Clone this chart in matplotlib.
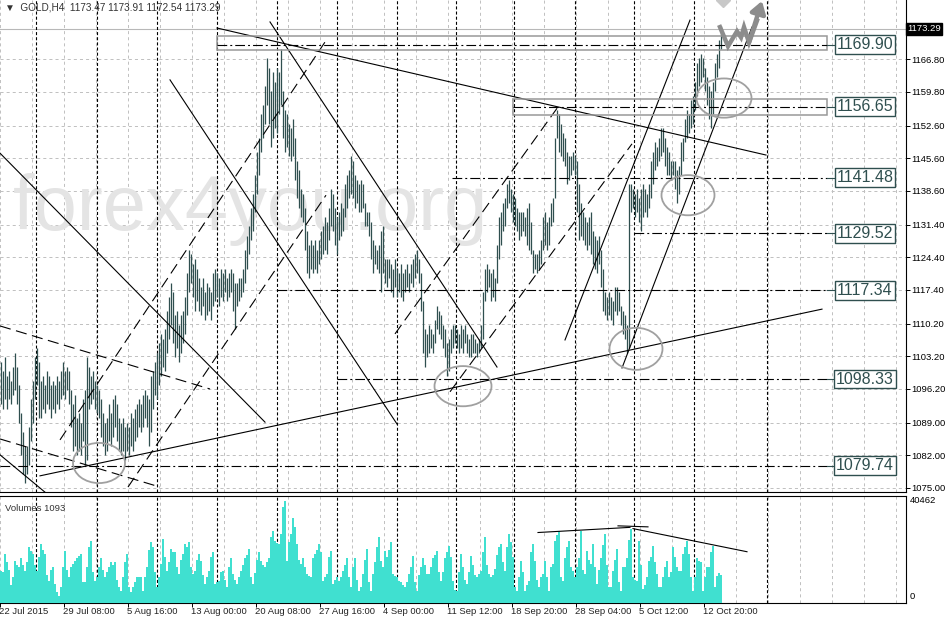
import matplotlib
matplotlib.use("Agg")
import matplotlib.pyplot as plt
import matplotlib.transforms as mtrans
from matplotlib.patches import Ellipse, Rectangle

plt.rcParams['lines.scale_dashes'] = False
plt.rcParams['font.family'] = ['Liberation Sans', 'DejaVu Sans']

# GOLD H4 bars, lows / highs (one value per bar)
lo = [1093,1092,1094,1092,1094,1093,1095,1096,1093,1089,1082,1078,1076,1078,1080,1085,1089,1094,1097,1090,
      1090,1092,1091,1093,1092,1090,1092,1091,1093,1092,1094,1095,1094,1096,1093,1088,1083,1084,1082,1083,
      1082,1085,1080,1081,1092,1093,1094,1092,1091,1090,1086,1084,1082,1083,1085,1084,1086,1088,1085,1083,
      1082,1083,1081,1083,1082,1084,1083,1085,1086,1088,1087,1088,1090,1088,1084,1087,1092,1095,1094,1097,
      1099,1101,1100,1104,1107,1110,1106,1103,1105,1102,1104,1106,1108,1112,1117,1119,1116,1113,1115,1113,
      1112,1114,1111,1112,1113,1111,1114,1115,1116,1114,1116,1115,1117,1115,1116,1117,1113,1109,1114,1115,
      1116,1117,1119,1122,1125,1128,1130,1134,1138,1142,1147,1150,1153,1157,1153,1148,1150,1152,1151,1155,
      1157,1150,1147,1148,1146,1145,1146,1141,1137,1135,1133,1132,1126,1121,1120,1122,1121,1122,1121,1123,
      1124,1125,1126,1125,1128,1131,1130,1127,1125,1128,1129,1130,1133,1135,1137,1138,1137,1135,1136,1134,
      1134,1135,1131,1131,1129,1124,1121,1123,1122,1121,1117,1121,1119,1118,1120,1117,1116,1118,1116,1117,
      1116,1115,1117,1118,1117,1119,1118,1120,1121,1119,1113,1104,1101,1103,1104,1105,1104,1106,1109,1108,
      1107,1105,1103,1099,1100,1104,1105,1106,1105,1104,1105,1104,1106,1104,1103,1103,1104,1104,1103,1104,
      1105,1107,1115,1117,1118,1115,1116,1115,1119,1124,1127,1130,1131,1135,1136,1134,1132,1131,1130,1128,
      1129,1130,1129,1127,1126,1125,1121,1122,1121,1122,1123,1126,1127,1126,1127,1131,1132,1137,1150,1147,
      1146,1145,1144,1140,1141,1142,1143,1142,1134,1128,1129,1128,1127,1126,1127,1125,1123,1122,1121,1123,
      1118,1113,1112,1111,1112,1111,1110,1113,1112,1113,1110,1108,1107,1104,1105,1134,1135,1133,1134,1132,
      1130,1133,1134,1133,1135,1137,1140,1143,1144,1145,1146,1147,1144,1142,1142,1141,1142,1139,1136,1138,
      1142,1145,1149,1150,1151,1152,1153,1156,1159,1161,1162,1163,1160,1157,1154,1152,1155,1160,1163,1165,1169]
hi = [1102,1100,1103,1099,1100,1098,1101,1104,1101,1097,1091,1087,1084,1084,1088,1094,1098,1103,1105,1102,
      1098,1099,1097,1100,1099,1097,1098,1097,1099,1098,1100,1102,1100,1101,1100,1096,1093,1095,1090,1091,
      1089,1094,1096,1103,1101,1099,1100,1098,1097,1096,1094,1091,1089,1090,1093,1091,1094,1095,1093,1090,
      1089,1090,1088,1089,1088,1091,1090,1092,1093,1094,1093,1095,1096,1095,1094,1099,1100,1102,1104,1106,
      1108,1107,1109,1113,1116,1119,1117,1112,1113,1110,1112,1113,1116,1121,1126,1125,1123,1124,1122,1120,
      1118,1120,1117,1119,1118,1117,1121,1122,1121,1120,1122,1121,1122,1120,1121,1122,1121,1119,1119,1120,
      1120,1122,1126,1129,1131,1135,1138,1142,1147,1150,1155,1157,1161,1167,1165,1160,1164,1162,1165,1164,
      1169,1160,1156,1155,1153,1152,1154,1150,1145,1143,1139,1138,1135,1130,1127,1128,1127,1128,1126,1128,
      1130,1131,1133,1132,1135,1139,1138,1135,1133,1134,1136,1135,1140,1142,1143,1146,1145,1142,1141,1140,
      1141,1140,1136,1134,1134,1132,1128,1127,1126,1127,1130,1131,1124,1124,1124,1123,1122,1124,1122,1121,
      1123,1121,1122,1123,1121,1123,1124,1125,1126,1124,1121,1115,1109,1108,1110,1109,1108,1111,1114,1113,
      1112,1110,1109,1106,1107,1109,1110,1110,1109,1108,1110,1109,1110,1108,1107,1108,1108,1107,1106,1107,
      1110,1117,1122,1123,1122,1121,1122,1120,1127,1133,1134,1136,1137,1140,1141,1139,1138,1137,1135,1134,
      1134,1134,1133,1135,1136,1132,1126,1125,1125,1126,1128,1133,1134,1132,1133,1136,1137,1150,1156,1155,
      1153,1151,1150,1147,1146,1146,1147,1146,1145,1140,1136,1134,1133,1132,1133,1134,1130,1129,1128,1129,
      1126,1122,1117,1116,1117,1116,1115,1118,1118,1117,1114,1113,1112,1110,1140,1140,1139,1138,1139,1137,
      1139,1140,1139,1138,1140,1145,1147,1149,1148,1150,1152,1152,1150,1148,1147,1145,1145,1145,1143,1144,
      1149,1150,1154,1156,1155,1158,1159,1162,1166,1167,1168,1167,1165,1163,1161,1160,1162,1166,1168,1171,1174]
# tick volume, thousands
vol = [12.6,12,19.2,16,13,7,10,16.6,15,14,17.9,15,12.6,16,21.9,20.5,19.2,15,12.6,18,
       23.2,21,19.2,11,8.6,13,14,7.3,4,2.7,6,14,20.6,13,10,14,15.3,16.5,17.9,18.5,
       19.2,8,8,14,22,24.6,12,8.6,10,14,17.9,13,10,12,14,16,15,16,9,6,
       4.6,10,16,19.2,6,4,6,8,10,10,10,4.6,10,14,21,23.9,21.9,12,6,10,
       15.3,25.2,18,12.6,16,21.2,20,19.9,14,11.3,17,19.2,23.2,22,23.9,14,11.3,12.6,17,19.2,
       16.6,11,7.3,10,12.6,18,19.9,7.3,8,8.6,12,12.6,9,6,14,17.9,11.3,9,7.3,10,
       12.6,15,17.9,19,21.2,10,7.3,11.9,17,19.9,16.6,15,14,16,17.9,26,28.5,24.6,23.5,23.2,
       27.2,38,40.5,16.6,24,27.2,33.8,30,23.2,17,15.3,17.9,14,11.3,10.5,10,17.9,19.2,21,23.2,
       20,8.6,10,11.3,18,20.6,7.3,9,10,8.6,10,12.6,15,17.9,10,6,14,17.9,9,4.6,
       6,11.3,17,21.2,8,4.6,11.3,16,22,25.9,16.6,14,20.6,18,21,23.9,11.3,10.5,10,8.6,
       8,7,6,8,11.3,14,18.6,8,4.6,11,14,17.9,15,11.3,11.3,14,17.9,19,20.6,12,
       8.6,12,17.9,20,22.5,18,8.6,5,4.6,12,19.2,14,9,7.3,12,18.6,15,11,10,11.3,
       12.6,20,25.9,15,11.3,10,11,13.3,19,21.9,23.2,16,12.6,22,27.2,24,18,6,4.6,10,
       16.6,12,4.6,7,8.6,20,23.2,16.6,9,6,10,11.3,16.6,10,4.6,14,15.3,24.6,27,28.5,
       10,8.6,17.9,22,24.6,14,12.6,10,14,17.9,28.5,13,11.3,20.6,17,15.3,23.2,14,7.3,13,
       17.9,23,27.2,15,6,6,12.6,17,21.2,8,4.6,14,14,17.9,25,29.2,10,9,8.6,24.6,
       15,5.3,7,10,16.6,18,22.5,16,11.3,6,6,10,14,16.6,10,12,22,18,14,12.6,
       12.6,19.2,22,24.6,19.2,10,4.6,10,17.9,16.5,16,4.6,10,14,14,20,22.5,6,10.6,11.9,11]

date_labels = ["22 Jul 2015", "29 Jul 08:00", "5 Aug 16:00", "13 Aug 00:00", "20 Aug 08:00",
               "27 Aug 16:00", "4 Sep 00:00", "11 Sep 12:00", "18 Sep 20:00", "28 Sep 04:00",
               "5 Oct 12:00", "12 Oct 20:00"]
price_ticks = [1166.80, 1159.80, 1152.60, 1145.60, 1138.60, 1131.40, 1124.40, 1117.40,
               1110.20, 1103.20, 1096.20, 1089.00, 1082.00, 1075.00]
last_price = 1173.29
vol_max_label = 40462

# drawn objects (bar index, price)
levels = [1169.90, 1156.65, 1141.48, 1129.52, 1117.34, 1098.33, 1079.74]
level_start = [108, 256, 225.5, 316.5, 138, 168, -0.5]
level_end = 417
sep_lines = [17.5, 48, 78, 108, 138, 168, 198, 227.5, 256.5, 287, 316.5, 346.5, 383]
solid_lines = [((108, 1173.5), (382.5, 1146.3)),
               ((19.5, 1077.6), (410.5, 1113.3)),
               ((-0.5, 1146.7), (132, 1089.1)),
               ((84.5, 1162.4), (198, 1088.7)),
               ((134.5, 1174.8), (248, 1100.9)),
               ((-0.5, 1082.1), (22, 1074.1)),
               ((282, 1106.7), (344.5, 1175.2)),
               ((310.5, 1100.7), (375.5, 1173.7))]
dashed_lines = [((-0.5, 1109.7), (104.5, 1096.2)),
                ((-0.5, 1085.5), (79.5, 1075.2)),
                ((29.5, 1085.3), (162, 1170.5)),
                ((63.5, 1075.2), (162.5, 1137.7)),
                ((197, 1108.0), (278.5, 1156.6)),
                ((224.5, 1095.6), (315.5, 1148.7))]
boxes = [(108, 413, 1168.8, 1171.8), (256, 413, 1154.9, 1158.3)]
ellipses = [(49, 1080.35, 26, 8.6), (231, 1096.8, 28.5, 8.6), (317.5, 1104.8, 26.5, 9.0),
            (343.5, 1137.7, 26.5, 8.6), (361.5, 1158.5, 27.5, 8.4)]
zig_x = [359.5, 363.5, 368, 370, 371.5, 374, 378]
zig_y = [1173.7, 1169.6, 1172.8, 1171.5, 1173.7, 1170.4, 1175.1]
vol_lines = [((268.5, 27850), (314.5, 29900)),
             ((308.5, 30500), (323.5, 30100)),
             ((316, 29400), (373, 20200))]

fig = plt.figure(figsize=(9.46, 6.19), dpi=100)
ax = fig.add_axes([0, 127 / 619, 906 / 946, 492 / 619])
axv = fig.add_axes([0, 16.5 / 619, 906 / 946, 106.5 / 619], sharex=ax)

idx = list(range(len(lo)))
ax.set_xlim(-0.5, 452.5)
ax.set_ylim(1074.14, 1179.5)
axv.set_ylim(0, 42380)

bar_col = '#2F4F4F'
grid_col = '#c0c0c0'
fs = 6.8

for a in (ax, axv):
    a.spines['top'].set_visible(a is axv)
    a.spines['left'].set_visible(False)
    for s in a.spines.values():
        s.set_linewidth(0.8)
    for k in range(29):
        a.axvline(16 * k - 0.5, color=grid_col, lw=0.7, dashes=(2.2, 2.2), zorder=0.5)
    for s in sep_lines:
        a.axvline(s, color='black', lw=0.8, dashes=(2.2, 1.5), zorder=2)

for t in price_ticks:
    ax.axhline(t, color=grid_col, lw=0.7, dashes=(2.2, 2.2), zorder=0.5)
ax.axhline(last_price, color='#b8b8b8', lw=0.8, zorder=1)

ax.text(6, 1130.3, "forex4you.org", fontsize=56, color='#e4e4e4', family='Liberation Sans',
        ha='left', va='baseline', zorder=1)

ax.vlines(idx, lo, hi, color=bar_col, lw=0.9, zorder=3)
axv.bar(idx, [v * 1000 for v in vol], width=1.0, color='#40E0D0', linewidth=0, zorder=3)

for (x0, y0), (x1, y1) in solid_lines:
    ax.plot([x0, x1], [y0, y1], color='black', lw=0.8, zorder=4)
for (x0, y0), (x1, y1) in dashed_lines:
    ax.plot([x0, x1], [y0, y1], color='black', lw=0.8, dashes=(8, 4), zorder=4)
for x0, x1, y0, y1 in boxes:
    ax.add_patch(Rectangle((x0, y0), x1 - x0, y1 - y0, fill=False, ec='#999999', lw=1.1, zorder=4))
for cx, cy, w, h in ellipses:
    ax.add_patch(Ellipse((cx, cy), w, h, fill=False, ec='#a0a0a0', lw=1.3, zorder=5))

for lv, st in zip(levels, level_start):
    ax.plot([st, 413], [lv, lv], color='black', lw=0.8, dashes=(7, 2.2, 1.4, 2.2), zorder=4)
    ax.plot([413, level_end], [lv, lv], color=bar_col, lw=0.8, zorder=4)
    ax.text(432, lv, "%.2f" % lv, fontsize=11.5, color=bar_col, family='Liberation Sans',
            ha='center', va='center', zorder=6,
            bbox=dict(boxstyle='square,pad=0.12', fc='white', ec=bar_col, lw=1))

ax.plot(zig_x, zig_y, color='#8c8c8c', lw=3.2, solid_joinstyle='miter', zorder=6)
ax.annotate("", xy=(380.5, 1179.3), xytext=(zig_x[-2], zig_y[-2]),
            arrowprops=dict(arrowstyle='-|>,head_width=0.45,head_length=0.7', lw=3.2,
                            color='#8c8c8c', shrinkA=0, shrinkB=0), zorder=6)
ax.plot([361], [1179.6], marker='D', ms=7, color='#c8c8c8', zorder=6)

for (x0, y0), (x1, y1) in vol_lines:
    axv.plot([x0, x1], [y0, y1], color='black', lw=0.8, zorder=4)

ax.yaxis.tick_right()
ax.set_yticks(price_ticks)
ax.set_yticklabels(["%.2f" % t for t in price_ticks])
ax.tick_params(axis='y', length=3, width=0.7, labelsize=fs, pad=1)
ax.tick_params(axis='x', bottom=False, labelbottom=False)

tr = mtrans.blended_transform_factory(ax.transAxes, ax.transData)
ax.text(1.0015, last_price, "%.2f" % last_price, transform=tr, fontsize=fs, color='white',
        ha='left', va='center', clip_on=False, zorder=7,
        bbox=dict(boxstyle='square,pad=0.12', fc='black', ec='black'))

ax.text(0.005, 0.984, "\u25bc  GOLD,H4  1173.47 1173.91 1172.54 1173.29", transform=ax.transAxes,
        fontsize=7.2, color='#333333', ha='left', va='center')
axv.text(0.005, 0.88, "Volumes 1093", transform=axv.transAxes, fontsize=fs,
         color='#333333', ha='left', va='center')

axv.set_yticks([])
axv.set_xticks([32 * m - 0.5 for m in range(len(date_labels))])
axv.tick_params(axis='x', length=3, width=0.7, labelbottom=False)
trv = mtrans.blended_transform_factory(axv.transData, axv.transAxes)
for m, lab in enumerate(date_labels):
    axv.text(32 * m - 1, -0.08, lab, transform=trv, fontsize=fs, ha='left', va='center',
             color='#222222', clip_on=False)
trva = axv.transAxes
axv.text(1.004, 0.962, str(vol_max_label), transform=trva, fontsize=fs, ha='left', va='center')
axv.text(1.004, 0.052, "0", transform=trva, fontsize=fs, ha='left', va='center')

fig.savefig("out.png", dpi=100)
